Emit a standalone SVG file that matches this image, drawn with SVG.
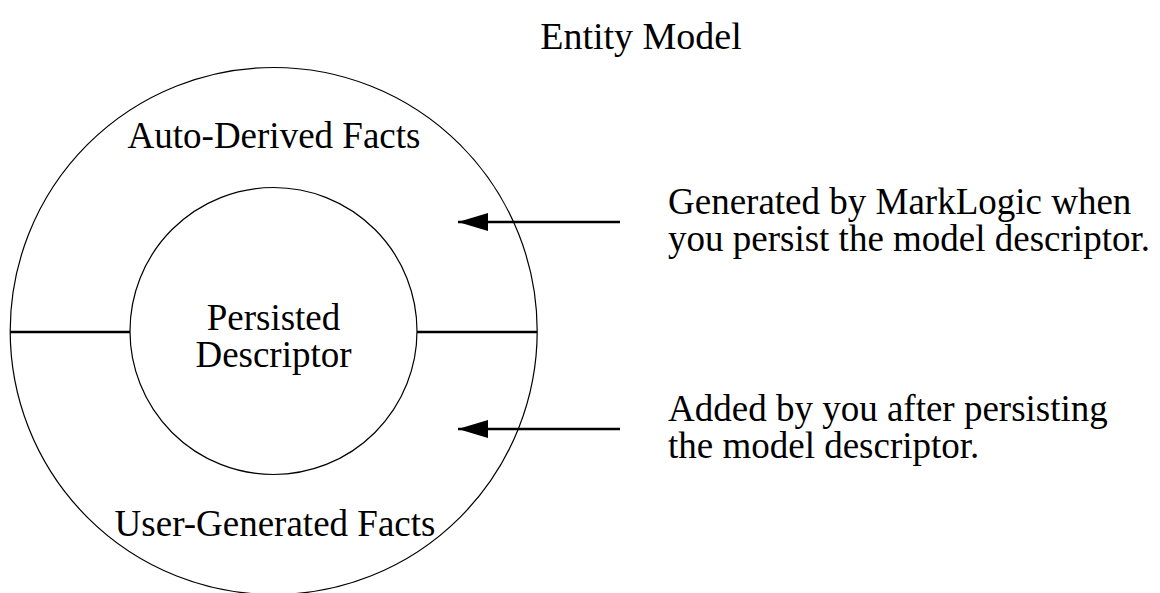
<svg xmlns="http://www.w3.org/2000/svg" width="1160" height="593" viewBox="0 0 1160 593">
<style>
text{font-family:"Liberation Serif","Times New Roman",serif;fill:#000}
.t{font-size:38px}
.l{font-size:37px}
.c{fill:none;stroke:#000;stroke-width:1.2}
.d{stroke:#000;stroke-width:2.4}
</style>
<defs>
<marker id="ah" markerUnits="userSpaceOnUse" markerWidth="32" markerHeight="20" refX="30" refY="9" orient="auto">
<path d="M0,0 L30,9 L0,18 Z" fill="#000"/>
</marker>
</defs>
<rect width="1160" height="593" fill="#fff"/>
<g id="title"><text class="t" x="641" y="49" text-anchor="middle">Entity Model</text></g>
<g id="outer">
<circle class="c" cx="273.7" cy="331" r="263.5"/>
<text class="l" x="274" y="148" text-anchor="middle">Auto-Derived Facts</text>
<text class="l" x="275" y="536" text-anchor="middle">User-Generated Facts</text>
</g>
<g id="inner">
<circle class="c" cx="273.5" cy="331" r="143.5"/>
<text class="l" x="273.5" y="330" text-anchor="middle">Persisted</text>
<text class="l" x="273.5" y="367" text-anchor="middle">Descriptor</text>
</g>
<g id="dividers">
<line class="d" x1="10" y1="332" x2="130" y2="332"/>
<line class="d" x1="417" y1="332" x2="537" y2="332"/>
</g>
<g id="note1"><text class="l" x="668" y="214">Generated by MarkLogic when</text><text class="l" x="668" y="251">you persist the model descriptor.</text></g>
<g id="note2"><text class="l" x="668" y="421">Added by you after persisting</text><text class="l" x="668" y="458">the model descriptor.</text></g>
<g id="connectors">
<line class="d" x1="620" y1="222" x2="458" y2="222" marker-end="url(#ah)"/>
<line class="d" x1="620" y1="429" x2="458" y2="429" marker-end="url(#ah)"/>
</g>
</svg>
